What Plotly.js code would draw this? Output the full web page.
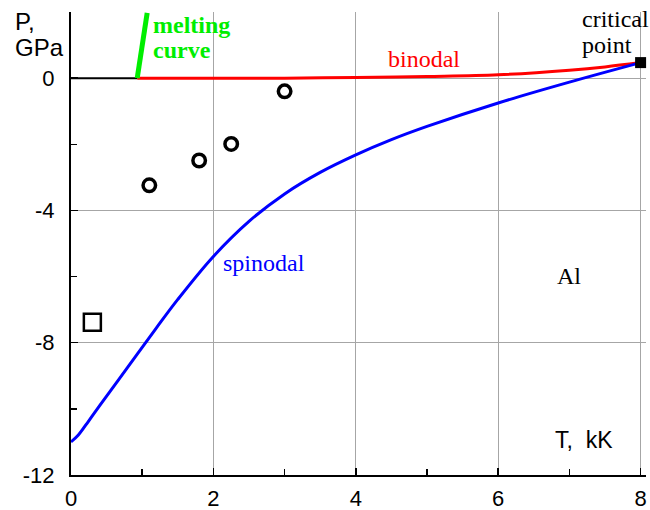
<!DOCTYPE html>
<html>
<head>
<meta charset="utf-8">
<script src="https://cdn.plot.ly/plotly-3.0.1.min.js"></script>
<style>html,body{margin:0;padding:0;background:#fff;}#chart{width:650px;height:510px;}</style>
</head>
<body>
<div id="chart"></div>
<script>
// ---- data (T in kK, P in GPa) ----
const spinodalT = [0, 0.1, 0.25, 0.4, 0.8, 1.2, 1.5, 2.0, 2.5, 3.0, 3.5, 4.0, 4.5, 5.0, 6.0, 7.0, 8.0];
const spinodalP = [-11.0, -10.8, -10.36, -9.91, -8.73, -7.55, -6.69, -5.39, -4.33, -3.5, -2.85, -2.32, -1.86, -1.46, -0.75, -0.12, 0.47];
const binodalT = [0.93, 2, 3, 4, 5, 6, 7, 7.5, 8];
const binodalP = [0, 0, 0, 0.02, 0.05, 0.10, 0.24, 0.34, 0.47];
const solidT = [0, 0.93];
const solidP = [0, 0];
const meltingT = [0.93, 1.07];
const meltingP = [0, 1.97];
const criticalT = [8.0];
const criticalP = [0.47];
const expT = [1.1, 1.8, 2.25, 3.0];
const expP = [-3.24, -2.49, -1.99, -0.40];
const squareT = [0.3];
const squareP = [-7.38];
const xTickVals = [0, 2, 4, 6, 8];
const xTickText = ['0', '2', '4', '6', '8'];
const yTickVals = [-12, -8, -4, 0];
const yTickText = ['-12', '-8', '-4', '0'];
const xMinorVals = [1, 3, 5, 7];
const yMinorVals = [-10, -6, -2, 2];

// ---- layout geometry ----
const L = 71, R = 4, T = 12, B = 35, WIDTH = 650, HEIGHT = 510;
const PW = WIDTH - L - R, PH = HEIGHT - T - B;
const xp = px => (px - L) / PW;
const yp = py => (HEIGHT - B - py) / PH;

const sans = 'Liberation Sans, Arial, sans-serif';
const serif = 'Liberation Serif, Times New Roman, serif';

const traces = [
  {x: solidT, y: solidP, mode: 'lines', line: {color: 'black', width: 2}, hoverinfo: 'skip'},
  {x: binodalT, y: binodalP, mode: 'lines', line: {color: '#ff0000', width: 3, shape: 'spline'}},
  {x: spinodalT, y: spinodalP, mode: 'lines', line: {color: '#0000ff', width: 3, shape: 'spline', smoothing: 1}},
  {x: meltingT, y: meltingP, mode: 'lines', line: {color: '#00ee00', width: 5}, cliponaxis: false},
  {x: expT, y: expP, mode: 'markers', marker: {symbol: 'circle-open', size: 12.5, color: 'black', line: {width: 3.5, color: 'black'}}},
  {x: squareT, y: squareP, mode: 'markers', marker: {symbol: 'square-open', size: 17, color: 'black', line: {width: 2.5, color: 'black'}}},
  {x: criticalT, y: criticalP, mode: 'markers', marker: {symbol: 'square', size: 11, color: 'black'}, cliponaxis: false}
];

function ann(text, px, py, font, color, extra) {
  return Object.assign({
    text: text, xref: 'paper', yref: 'paper', x: xp(px), y: yp(py),
    xanchor: 'left', yanchor: 'middle', showarrow: false,
    font: {family: font.family, size: font.size, color: color}
  }, extra || {});
}

const layout = {
  width: WIDTH, height: HEIGHT,
  margin: {l: L, r: R, t: T, b: B, pad: 0},
  paper_bgcolor: 'white', plot_bgcolor: 'white',
  showlegend: false,
  xaxis: {
    range: [0, PW / 71.2], fixedrange: true,
    tickmode: 'array', tickvals: xTickVals, ticktext: xTickText,
    ticks: 'inside', ticklen: 7, tickwidth: 1.5, tickcolor: 'black',
    ticklabelstandoff: 3,
    showgrid: true, gridcolor: '#a6a6a6', gridwidth: 1,
    zeroline: false, showline: true, linecolor: 'black', linewidth: 2,
    tickfont: {family: sans, size: 22, color: 'black'},
    minor: {tickmode: 'array', tickvals: xMinorVals, ticks: 'inside', ticklen: 6, tickwidth: 1.5, tickcolor: 'black', showgrid: false}
  },
  yaxis: {
    range: [-12, 2], fixedrange: true,
    tickmode: 'array', tickvals: yTickVals, ticktext: yTickText,
    ticks: 'inside', ticklen: 7, tickwidth: 1.5, tickcolor: 'black',
    ticklabelstandoff: 10,
    showgrid: true, gridcolor: '#a6a6a6', gridwidth: 1,
    zeroline: false, showline: true, linecolor: 'black', linewidth: 2,
    tickfont: {family: sans, size: 22, color: 'black'},
    minor: {tickmode: 'array', tickvals: yMinorVals, ticks: 'inside', ticklen: 6, tickwidth: 1.5, tickcolor: 'black', showgrid: false}
  },
  annotations: [
    ann('P,', 13, 21, {family: sans, size: 24}, 'black'),
    ann('GPa', 13, 47, {family: sans, size: 24}, 'black'),
    ann('<b>melting</b>', 151, 25, {family: serif, size: 24}, '#00ee00'),
    ann('<b>curve</b>', 151, 50, {family: serif, size: 24}, '#00ee00'),
    ann('binodal', 386, 59, {family: serif, size: 24}, '#ff0000'),
    ann('critical', 580, 19, {family: serif, size: 24}, 'black'),
    ann('point', 580, 45, {family: serif, size: 24}, 'black'),
    ann('spinodal', 221, 263, {family: serif, size: 24}, '#0000ff'),
    ann('Al', 555, 276, {family: serif, size: 24}, 'black'),
    ann('T,\u00a0\u00a0kK', 553, 440, {family: sans, size: 23}, 'black')
  ]
};

Plotly.newPlot('chart', traces, layout, {staticPlot: true, displayModeBar: false});
</script>
</body>
</html>
